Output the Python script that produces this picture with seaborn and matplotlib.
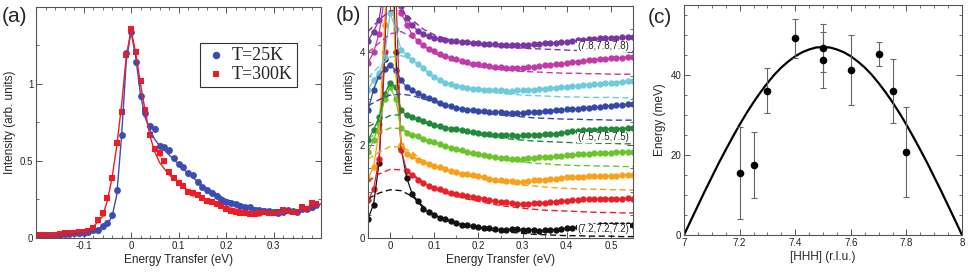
import numpy as np
import pandas as pd
import matplotlib
matplotlib.use("Agg")
import matplotlib.pyplot as plt
from matplotlib.ticker import MultipleLocator, FuncFormatter
import seaborn as sns

sns.set_style("ticks")
plt.rcParams['font.family'] = ['Liberation Sans', 'DejaVu Sans']
plt.rcParams['xtick.direction'] = 'in'
plt.rcParams['ytick.direction'] = 'in'
plt.rcParams['xtick.top'] = True
plt.rcParams['ytick.right'] = True
plt.rcParams['axes.edgecolor'] = '#555555'
plt.rcParams['axes.linewidth'] = 0.8

# ---------- panel (a) data ----------
a_x = np.round(np.arange(-0.2, 0.395, 0.01), 2)
a_blue = [0.02, 0.02, 0.02, 0.02, 0.02, 0.02, 0.025, 0.025, 0.03, 0.03,
          0.035, 0.04, 0.055, 0.05, 0.075, 0.10, 0.15, 0.31, 0.67, 1.20,
          1.34, 1.14, 0.92, 0.81, 0.73, 0.71, 0.60, 0.59, 0.57, 0.52,
          0.48, 0.46, 0.42, 0.41, 0.365, 0.33, 0.31, 0.295, 0.275, 0.245,
          0.235, 0.225, 0.22, 0.21, 0.20, 0.20, 0.18, 0.18, 0.175, 0.175,
          0.17, 0.165, 0.17, 0.18, 0.175, 0.17, 0.19, 0.19, 0.20, 0.215]
a_red = [0.02, 0.02, 0.02, 0.02, 0.02, 0.025, 0.03, 0.03, 0.035, 0.04,
         0.04, 0.045, 0.065, 0.12, 0.16, 0.26, 0.39, 0.62, 0.82, 1.19,
         1.36, 1.21, 1.02, 0.83, 0.67, 0.58, 0.55, 0.50, 0.43, 0.39,
         0.36, 0.34, 0.30, 0.29, 0.28, 0.26, 0.24, 0.235, 0.22, 0.21,
         0.19, 0.175, 0.17, 0.165, 0.165, 0.155, 0.155, 0.16, 0.17, 0.165,
         0.165, 0.17, 0.18, 0.175, 0.17, 0.17, 0.20, 0.19, 0.23, 0.22]
a_fit_x = [-0.2, -0.15, -0.1, -0.08, -0.06, -0.05, -0.04, -0.03, -0.02, -0.01,
           0.0, 0.01, 0.02, 0.03, 0.04, 0.05, 0.06, 0.08, 0.1, 0.12,
           0.15, 0.2, 0.25, 0.3, 0.35, 0.4]
a_blue_fit = [0.015, 0.02, 0.03, 0.045, 0.07, 0.09, 0.14, 0.28, 0.66, 1.15,
              1.34, 1.17, 0.93, 0.78, 0.70, 0.64, 0.60, 0.54, 0.48, 0.42,
              0.34, 0.25, 0.20, 0.18, 0.18, 0.22]
a_red_fit = [0.015, 0.025, 0.045, 0.07, 0.14, 0.24, 0.39, 0.60, 0.86, 1.18,
             1.35, 1.20, 1.00, 0.82, 0.66, 0.56, 0.49, 0.41, 0.36, 0.31,
             0.26, 0.20, 0.17, 0.17, 0.18, 0.22]

# ---------- panel (b) data ----------
b_x = np.round(np.arange(-0.05, 0.5501, 0.0125), 4)
b_black = [0.42, 0.72, 1.62, 3.85, 8.0, 4.0, 1.93, 1.30, 0.95, 0.80,
           0.63, 0.55, 0.49, 0.44, 0.40, 0.36, 0.33, 0.29, 0.27, 0.25,
           0.23, 0.22, 0.21, 0.19, 0.18, 0.18, 0.19, 0.19, 0.18, 0.18,
           0.18, 0.16, 0.17, 0.18, 0.18, 0.19, 0.21, 0.22, 0.23, 0.24,
           0.25, 0.26, 0.27, 0.27, 0.27, 0.27, 0.28, 0.28, 0.28]
b_red = [0.81, 1.05, 1.70, 4.00, 8.0, 5.50, 1.90, 1.45, 1.36, 1.26,
         1.19, 1.13, 1.08, 1.05, 1.01, 0.98, 0.95, 0.93, 0.91, 0.89,
         0.87, 0.85, 0.82, 0.80, 0.78, 0.77, 0.75, 0.74, 0.74, 0.74,
         0.75, 0.76, 0.76, 0.77, 0.78, 0.79, 0.80, 0.81, 0.82, 0.83,
         0.84, 0.84, 0.84, 0.85, 0.85, 0.85, 0.85, 0.86, 0.85]
b_orange = [1.28, 1.53, 2.30, 4.60, 7.0, 3.60, 2.00, 1.82, 1.76, 1.69,
            1.64, 1.59, 1.56, 1.52, 1.48, 1.45, 1.42, 1.39, 1.37, 1.35,
            1.33, 1.31, 1.28, 1.26, 1.24, 1.23, 1.22, 1.21, 1.21, 1.22,
            1.24, 1.25, 1.25, 1.27, 1.28, 1.30, 1.31, 1.32, 1.32, 1.32,
            1.33, 1.33, 1.33, 1.34, 1.34, 1.34, 1.35, 1.35, 1.35]
b_lgreen = [1.86, 2.11, 2.45, 3.00, 3.25, 3.00, 2.37, 2.27, 2.23, 2.19,
            2.14, 2.10, 2.07, 2.03, 1.99, 1.95, 1.92, 1.89, 1.86, 1.83,
            1.81, 1.79, 1.77, 1.75, 1.73, 1.72, 1.71, 1.70, 1.71, 1.72,
            1.73, 1.74, 1.74, 1.75, 1.76, 1.77, 1.78, 1.79, 1.80, 1.81,
            1.82, 1.83, 1.83, 1.84, 1.84, 1.85, 1.85, 1.86, 1.86]
b_dgreen = [2.11, 2.33, 2.60, 3.10, 3.35, 3.25, 2.75, 2.65, 2.60, 2.56,
            2.52, 2.47, 2.44, 2.41, 2.38, 2.36, 2.34, 2.32, 2.30, 2.29,
            2.27, 2.25, 2.24, 2.23, 2.22, 2.21, 2.21, 2.20, 2.21, 2.22,
            2.23, 2.22, 2.24, 2.25, 2.25, 2.27, 2.28, 2.30, 2.31, 2.32,
            2.33, 2.33, 2.34, 2.35, 2.35, 2.36, 2.36, 2.37, 2.37]
b_blue = [2.75, 3.20, 3.50, 3.65, 3.72, 3.62, 3.40, 3.25, 3.18, 3.12,
          3.06, 3.01, 2.97, 2.92, 2.87, 2.84, 2.81, 2.78, 2.76, 2.75,
          2.74, 2.73, 2.72, 2.72, 2.71, 2.70, 2.70, 2.70, 2.70, 2.71,
          2.71, 2.72, 2.73, 2.74, 2.75, 2.76, 2.77, 2.78, 2.79, 2.80,
          2.81, 2.82, 2.83, 2.84, 2.85, 2.86, 2.87, 2.88, 2.88]
b_cyan = [3.20, 3.40, 3.55, 3.90, 4.85, 4.50, 4.05, 3.95, 3.83, 3.74,
          3.67, 3.55, 3.47, 3.41, 3.35, 3.31, 3.28, 3.26, 3.24, 3.22,
          3.21, 3.20, 3.19, 3.19, 3.18, 3.17, 3.17, 3.18, 3.18, 3.19,
          3.20, 3.21, 3.22, 3.23, 3.24, 3.25, 3.26, 3.27, 3.28, 3.29,
          3.30, 3.31, 3.32, 3.33, 3.34, 3.35, 3.37, 3.38, 3.39]
b_magenta = [3.78, 4.00, 4.40, 5.20, 8.0, 6.00, 4.85, 4.60, 4.38, 4.25,
             4.15, 4.08, 4.02, 3.97, 3.92, 3.88, 3.85, 3.82, 3.79, 3.76,
             3.74, 3.72, 3.70, 3.69, 3.68, 3.67, 3.67, 3.66, 3.67, 3.68,
             3.69, 3.71, 3.72, 3.73, 3.75, 3.76, 3.77, 3.79, 3.80, 3.82,
             3.83, 3.84, 3.85, 3.86, 3.87, 3.88, 3.89, 3.90, 3.90]
b_purple = [4.25, 4.45, 4.70, 5.50, 8.0, 6.00, 5.00, 4.75, 4.58, 4.47,
            4.40, 4.35, 4.32, 4.29, 4.27, 4.25, 4.24, 4.23, 4.22, 4.21,
            4.20, 4.19, 4.19, 4.18, 4.17, 4.17, 4.16, 4.16, 4.16, 4.17,
            4.18, 4.19, 4.20, 4.20, 4.21, 4.22, 4.23, 4.24, 4.26, 4.27,
            4.28, 4.29, 4.30, 4.31, 4.32, 4.32, 4.33, 4.33, 4.34]

b_fit_x = np.round(np.arange(-0.05, 0.5501, 0.025), 3)
b_black_bg = [0.85, 0.97, 1.04, 1.02, 0.90, 0.68, 0.50, 0.40, 0.32, 0.26,
              0.21, 0.17, 0.14, 0.12, 0.10, 0.08, 0.07, 0.06, 0.05, 0.05,
              0.04, 0.04, 0.04, 0.03, 0.03]
b_red_bg = [1.22, 1.38, 1.48, 1.47, 1.38, 1.20, 1.06, 0.97, 0.90, 0.84,
            0.79, 0.74, 0.70, 0.67, 0.64, 0.62, 0.60, 0.59, 0.58, 0.57,
            0.56, 0.55, 0.55, 0.54, 0.54]
b_orange_bg = [1.70, 1.85, 1.97, 1.96, 1.85, 1.66, 1.54, 1.46, 1.40, 1.34,
               1.29, 1.24, 1.20, 1.17, 1.14, 1.12, 1.10, 1.08, 1.07, 1.06,
               1.05, 1.05, 1.04, 1.04, 1.03]
b_lgreen_bg = [2.15, 2.27, 2.37, 2.36, 2.25, 2.12, 2.03, 1.96, 1.89, 1.83,
               1.78, 1.74, 1.70, 1.66, 1.64, 1.61, 1.60, 1.58, 1.57, 1.56,
               1.56, 1.55, 1.55, 1.54, 1.54]
b_dgreen_bg = [2.40, 2.52, 2.64, 2.66, 2.60, 2.50, 2.42, 2.36, 2.31, 2.27,
               2.23, 2.19, 2.16, 2.13, 2.11, 2.09, 2.08, 2.07, 2.06, 2.05,
               2.05, 2.04, 2.04, 2.03, 2.03]
b_blue_bg = [2.85, 2.98, 3.08, 3.10, 3.07, 3.00, 2.93, 2.86, 2.80, 2.75,
             2.71, 2.68, 2.65, 2.63, 2.61, 2.59, 2.58, 2.57, 2.56, 2.56,
             2.55, 2.55, 2.54, 2.54, 2.54]
b_cyan_bg = [3.45, 3.70, 3.90, 3.93, 3.85, 3.66, 3.45, 3.35, 3.28, 3.23,
             3.19, 3.15, 3.12, 3.10, 3.08, 3.07, 3.06, 3.05, 3.04, 3.04,
             3.03, 3.03, 3.03, 3.02, 3.02]
b_magenta_bg = [4.00, 4.20, 4.40, 4.45, 4.32, 4.14, 3.98, 3.88, 3.80, 3.74,
                3.69, 3.66, 3.63, 3.61, 3.59, 3.58, 3.57, 3.56, 3.55, 3.55,
                3.54, 3.54, 3.53, 3.53, 3.53]
b_purple_bg = [4.45, 4.70, 4.90, 4.90, 4.70, 4.50, 4.38, 4.30, 4.24, 4.20,
               4.17, 4.14, 4.12, 4.10, 4.09, 4.08, 4.07, 4.06, 4.05, 4.04,
               4.04, 4.03, 4.03, 4.02, 4.02]
b_colors = ['#111111', '#e8202a', '#f7a11a', '#6cc42c', '#23893a',
            '#3548a8', '#6dcbdc', '#c23aa9', '#7b35a3']
b_labels = ['(7.2,7.2,7.2)', '(7.5,7.5,7.5)', '(7.8,7.8,7.8)']
b_label_y = [0.19, 2.17, 4.13]

# ---------- panel (c) data ----------
c_h = [7.2, 7.25, 7.3, 7.4, 7.5, 7.5, 7.6, 7.7, 7.75, 7.8]
c_e = [15.5, 17.5, 36.1, 49.2, 46.7, 43.8, 41.2, 45.2, 36.1, 20.8]
c_err = [11.5, 8.3, 5.6, 4.9, 6.0, 7.0, 8.7, 3.0, 8.0, 11.2]
c_curve_h = np.round(np.arange(7.0, 8.001, 0.025), 3)
c_curve_e = [0.0, 3.7, 7.35, 11.0, 14.5, 18.0, 21.3, 24.5, 27.6, 30.5,
             33.2, 35.7, 38.0, 40.1, 41.9, 43.4, 44.7, 45.7, 46.4, 46.9,
             47.0,
             46.9, 46.4, 45.7, 44.7, 43.4, 41.9, 40.1, 38.0, 35.7, 33.2,
             30.5, 27.6, 24.5, 21.3, 18.0, 14.5, 11.0, 7.35, 3.7, 0.0]

fig = plt.figure(figsize=(9.69, 2.77), dpi=100)
axa = fig.add_axes([0.0372, 0.1408, 0.2941, 0.834])
axb = fig.add_axes([0.3798, 0.1408, 0.2735, 0.8375])
axc = fig.add_axes([0.7059, 0.1516, 0.2869, 0.830])

blue_a = '#3a4db2'
red_a = '#ee1c25'
fmt0 = FuncFormatter(lambda v, p: '0' if abs(v) < 1e-9 else f'{v:g}')

# (a)
axa.errorbar(a_x, a_blue, yerr=0.015, fmt='none', ecolor=blue_a, alpha=0.45,
             elinewidth=0.8, capsize=1.5)
axa.errorbar(a_x, a_red, yerr=0.015, fmt='none', ecolor=red_a, alpha=0.45,
             elinewidth=0.8, capsize=1.5)
sns.lineplot(x=a_fit_x, y=a_blue_fit, color=blue_a, lw=1.0, ax=axa)
sns.lineplot(x=a_fit_x, y=a_red_fit, color=red_a, lw=1.0, ax=axa)
sns.scatterplot(x=a_x, y=a_blue, color=blue_a, marker='o', s=24, linewidth=0,
                label='T=25K', ax=axa)
sns.scatterplot(x=a_x, y=a_red, color=red_a, marker='s', s=19, linewidth=0,
                label='T=300K', ax=axa)
axa.set_xlim(-0.2, 0.4)
axa.set_ylim(0, 1.5)
axa.set_xticks([-0.1, 0, 0.1, 0.2, 0.3])
axa.xaxis.set_minor_locator(MultipleLocator(0.02))
axa.set_yticks([0, 0.5, 1])
axa.yaxis.set_minor_locator(MultipleLocator(0.25))
axa.xaxis.set_major_formatter(fmt0)
axa.yaxis.set_major_formatter(fmt0)
axa.set_xlabel('Energy Transfer (eV)', fontsize=8.5, labelpad=2)
axa.set_ylabel('Intensity (arb. units)', fontsize=8.5, labelpad=3)
leg = axa.legend(loc='upper left', bbox_to_anchor=(0.545, 0.885), frameon=True,
                 fancybox=False, edgecolor='#333333', framealpha=1,
                 prop={'family': 'Liberation Serif', 'size': 13},
                 handletextpad=0.3, borderpad=0.25, labelspacing=0.1,
                 handlelength=1.2, markerscale=1.1)
leg.get_frame().set_linewidth(0.8)

# (b)
series_b = [b_black, b_red, b_orange, b_lgreen, b_dgreen, b_blue, b_cyan,
            b_magenta, b_purple]
bg_b = [b_black_bg, b_red_bg, b_orange_bg, b_lgreen_bg, b_dgreen_bg,
        b_blue_bg, b_cyan_bg, b_magenta_bg, b_purple_bg]
for vals, bg, col in zip(series_b, bg_b, b_colors):
    sns.lineplot(x=b_fit_x, y=bg, color=col, lw=1.0,
                 linestyle=(0, (4.5, 2.5)), ax=axb)
    sns.lineplot(x=b_x, y=vals, color=col, lw=0.9, ax=axb)
    sns.scatterplot(x=b_x, y=vals, color=col, s=21, linewidth=0, ax=axb)
for lab, yy in zip(b_labels, b_label_y):
    axb.text(0.483, yy, lab, fontsize=7, ha='center', va='center',
             bbox=dict(fc='white', ec='none', pad=0.4), zorder=5)
axb.set_xlim(-0.05, 0.55)
axb.set_ylim(0, 5)
axb.set_xticks([0, 0.1, 0.2, 0.3, 0.4, 0.5])
axb.xaxis.set_minor_locator(MultipleLocator(0.05))
axb.set_yticks([0, 2, 4])
axb.yaxis.set_minor_locator(MultipleLocator(0.5))
axb.xaxis.set_major_formatter(fmt0)
axb.set_xlabel('Energy Transfer (eV)', fontsize=8.5, labelpad=2)
axb.set_ylabel('Intensity (arb. units)', fontsize=8.5, labelpad=3)

# (c)
sns.lineplot(x=c_curve_h, y=c_curve_e, color='black', lw=1.6, ax=axc)
axc.errorbar(c_h, c_e, yerr=c_err, fmt='none', ecolor='#666666',
             elinewidth=0.8, capsize=2.5, capthick=0.8)
sns.scatterplot(x=c_h, y=c_e, color='black', s=30, linewidth=0, ax=axc,
                zorder=4)
axc.set_xlim(7, 8)
axc.set_ylim(0, 57.5)
axc.set_xticks([7, 7.2, 7.4, 7.6, 7.8, 8])
axc.xaxis.set_minor_locator(MultipleLocator(0.05))
axc.set_yticks([0, 20, 40])
axc.yaxis.set_minor_locator(MultipleLocator(5))
axc.xaxis.set_major_formatter(FuncFormatter(lambda v, p: f'{v:g}'))
axc.set_xlabel('[HHH] (r.l.u.)', fontsize=8.5, labelpad=2)
axc.set_ylabel('Energy (meV)', fontsize=8.5, labelpad=3)

for ax in (axa, axb, axc):
    ax.tick_params(which='major', length=4, width=0.7, labelsize=7,
                   colors='#555555', labelcolor='#222222', pad=2)
    ax.tick_params(which='minor', length=2.2, width=0.6, colors='#555555')
    for sp in ax.spines.values():
        sp.set_visible(True)

fig.text(0.002, 0.975, '(a)', fontsize=15, va='top', ha='left')
fig.text(0.347, 0.978, '(b)', fontsize=15, va='top', ha='left')
fig.text(0.668, 0.972, '(c)', fontsize=15, va='top', ha='left')

fig.savefig('out.png', dpi=100)
